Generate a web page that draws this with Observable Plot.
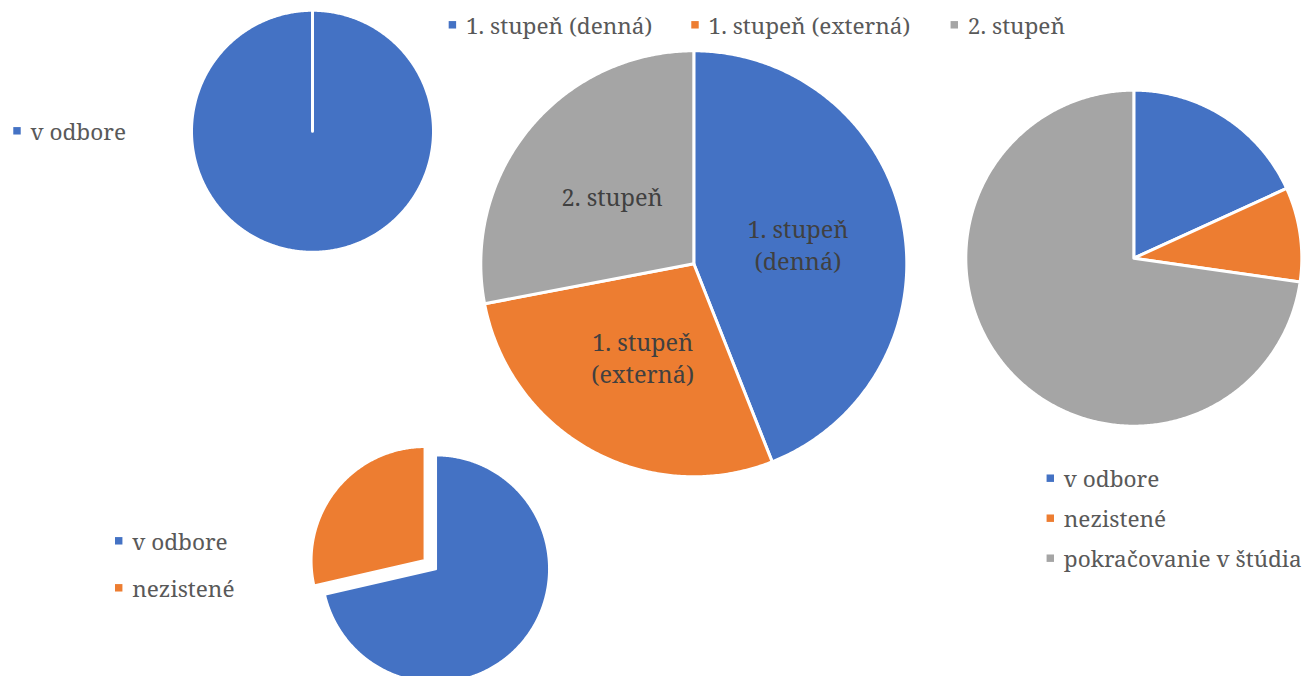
<!DOCTYPE html>
<html>
<head>
<meta charset="utf-8">
<script src="https://cdn.jsdelivr.net/npm/d3@7"></script>
<script src="https://cdn.jsdelivr.net/npm/@observablehq/plot@0.6"></script>
<style>
  html, body { margin: 0; padding: 0; background: #ffffff; }
  #chart svg { display: block; }
</style>
</head>
<body>
<div id="chart"></div>
<script>
// ---------- DATA ----------
const studyCategories = ["1. stupeň (denná)", "1. stupeň (externá)", "2. stupeň"];
const studyValues = [11, 7, 7];
const studyLabels = ["1. stupeň\n(denná)", "1. stupeň\n(externá)", "2. stupeň"];

const outcomeCategories = ["v odbore", "nezistené", "pokračovanie v štúdia"];
const pieTopLeftValues = [1];        // v odbore only
const pieRightValues = [2, 1, 8];    // v odbore, nezistené, pokračovanie v štúdia
const pieBottomValues = [5, 2];      // v odbore, nezistené

const palette = ["#4472C4", "#ED7D31", "#A5A5A5"];

// ---------- LAYOUT ----------
const pies = [
  {id: "A", cats: outcomeCategories.slice(0, 1), values: pieTopLeftValues, cx: 312, cy: 130.8, r: 121, explode: 0},
  {id: "B", cats: studyCategories, values: studyValues, cx: 693.3, cy: 263.3, r: 213, explode: 0, labels: studyLabels, labelR: 106},
  {id: "C", cats: outcomeCategories, values: pieRightValues, cx: 1133.3, cy: 257.7, r: 168, explode: 0},
  {id: "D", cats: outcomeCategories.slice(0, 2), values: pieBottomValues, cx: 429.8, cy: 564.2, r: 114, explode: 6.7}
];

// legend text start x and baseline y
const legends = [
  {cats: studyCategories, textX: [465.4, 708, 967.3], baseline: 33.3},
  {cats: outcomeCategories.slice(0, 1), textX: [30], baseline: 139.3},
  {cats: outcomeCategories.slice(0, 2), textX: [131.7, 131.7], baseline: 549.3, step: 47},
  {cats: outcomeCategories, textX: [1063.3, 1063.3, 1063.3], baseline: 486.7, step: 40}
];
const swatchGap = 13.5;
const swatchRise = 9;
const fontStack = "'Noto Serif', 'DejaVu Serif', serif";

// ---------- GEOMETRY FROM DATA ----------
const polyPts = [];
const labelPts = [];
for (const p of pies) {
  const arcs = d3.pie().sort(null)(p.values);
  arcs.forEach((a, i) => {
    const mid = (a.startAngle + a.endAngle) / 2;
    const ox = p.cx + p.explode * Math.sin(mid);
    const oy = p.cy - p.explode * Math.cos(mid);
    const key = p.id + i;
    const cat = p.cats[i];
    polyPts.push({key, cat, x: ox, y: oy});
    const n = Math.max(2, Math.ceil((a.endAngle - a.startAngle) / (Math.PI / 360)));
    for (let k = 0; k <= n; k++) {
      const t = a.startAngle + (a.endAngle - a.startAngle) * k / n;
      polyPts.push({key, cat, x: ox + p.r * Math.sin(t), y: oy - p.r * Math.cos(t)});
    }
    if (p.labels) {
      labelPts.push({text: p.labels[i], x: ox + p.labelR * Math.sin(mid), y: oy - p.labelR * Math.cos(mid)});
    }
  });
}

const legendRows = [];
for (const L of legends) {
  L.cats.forEach((cat, i) => {
    const tx = L.textX[i];
    const by = L.baseline + (L.step ? L.step * i : 0);
    legendRows.push({cat, tx, sx: tx - swatchGap, by, sy: by - swatchRise});
  });
}

const colorDomain = [...studyCategories, ...outcomeCategories];
const colorRange = [...palette, ...palette];

const chart = Plot.plot({
  width: 1308,
  height: 676,
  margin: 0,
  x: {domain: [0, 1308], range: [0, 1308], axis: null},
  y: {domain: [0, 676], range: [0, 676], axis: null},
  color: {type: "ordinal", domain: colorDomain, range: colorRange},
  style: {background: "#ffffff", overflow: "hidden", fontFamily: fontStack},
  marks: [
    Plot.line(polyPts, {x: "x", y: "y", z: "key", fill: "cat", stroke: "#ffffff", strokeWidth: 3, curve: "linear-closed"}),
    Plot.text(labelPts, {x: "x", y: "y", text: "text", fontSize: 23.5, lineHeight: 1.34, fill: "#404040", fontFamily: fontStack}),
    Plot.dot(legendRows, {x: "sx", y: "sy", symbol: "square", r: 4.2, fill: "cat"}),
    Plot.text(legendRows, {x: "tx", y: "by", text: "cat", textAnchor: "start", lineAnchor: "bottom", fontSize: 22.6, fill: "#595959", fontFamily: fontStack})
  ]
});
document.getElementById("chart").appendChild(chart);
</script>
</body>
</html>
